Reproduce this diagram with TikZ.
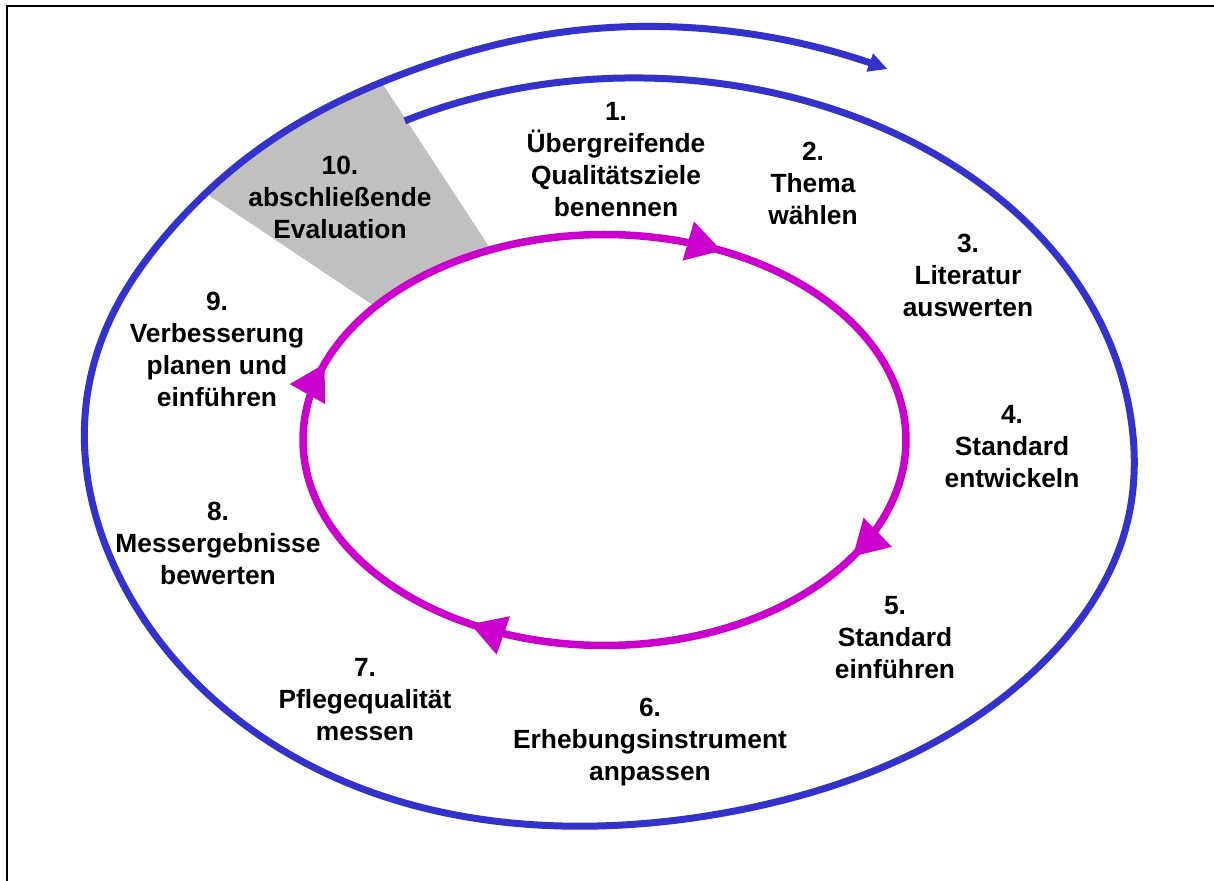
\documentclass[tikz,border=0pt]{standalone}
\usepackage{fontspec}
\setmainfont{Liberation Sans}
\usetikzlibrary{arrows.meta, decorations.markings}

\definecolor{kreisblau}{RGB}{51,51,204}
\definecolor{kreislila}{RGB}{204,0,204}
\definecolor{evalgrau}{RGB}{192,192,192}

% Hilfsfunktionen fuer die Spirale
\pgfmathdeclarefunction{buckel}{3}{%
    \pgfmathsetmacro\bt{min(3,max(-3,(#1-#2)/#3))}%
    \pgfmathparse{1/(1+\bt*\bt*\bt*\bt)}}
\pgfmathdeclarefunction{unten}{1}{%
    \pgfmathsetmacro\bu{max(0,-cos(#1))}%
    \pgfmathparse{\bu*\bu*\bu}}
\pgfmathdeclarefunction{spiralx}{1}{%
    \pgfmathparse{623+(486+#1/360*72.5)*(1-0.03*buckel(#1,320,30))*(1+0.025*buckel(#1,125,35))*sin(#1)-38*unten(#1)}}
\pgfmathdeclarefunction{spiraly}{1}{%
    \pgfmathparse{438-(360+#1/360*54)*(1-0.03*buckel(#1,320,30))*(1+0.025*buckel(#1,125,35))*cos(#1)}}

\tikzstyle{schritt} = [align=center, font=\fontsize{15}{18.2}\selectfont\bfseries, inner sep=0pt]
\tikzstyle{spirale} = [draw=kreisblau, line width=0.14cm, -{Triangle[length=0.38cm, width=0.36cm]}]
\tikzstyle{zyklus} = [draw=kreislila, line width=0.15cm, postaction={decorate},
    decoration={markings,
        mark=at position 0.074 with {\arrow{Triangle[length=0.7cm, width=0.77cm]}},
        mark=at position 0.332 with {\arrow{Triangle[length=0.7cm, width=0.77cm]}},
        mark=at position 0.585 with {\arrow{Triangle[length=0.7cm, width=0.77cm]}},
        mark=at position 0.800 with {\arrow{Triangle[length=0.7cm, width=0.77cm]}}}]

\begin{document}
\begin{tikzpicture}[x=0.02cm, y=-0.02cm]
    \useasboundingbox (0,0) rectangle (1214,881);

    % Rahmen
    \draw[line width=0.04cm] (7,881) -- (7,6) -- (1214,6);

    % Feld 10
    \begin{scope}
        \clip (354,40) -- (516,288) -- (413,332) -- (165,166) -- cycle;
        \fill[evalgrau, even odd rule]
            plot[domain=250:400, samples=100] ({spiralx(\x)}, {spiraly(\x)}) -- cycle
            plot[domain=0:360, samples=181] ({604.5+301.5*sin(\x)}, {440-205.5*cos(\x)}) -- cycle;
    \end{scope}

    % Spirale und Zyklus
    \draw[spirale] plot[domain=-27:388, samples=240, smooth] ({spiralx(\x)}, {spiraly(\x)});
    \draw[zyklus] plot[domain=0:360, samples=181] ({604.5+301.5*sin(\x)}, {440-205.5*cos(\x)}) -- cycle;

    % Schritte
    \node (s1) [schritt] at (616,160) {1.\\Übergreifende\\Qualitätsziele\\benennen};
    \node (s2) [schritt] at (813,183) {2.\\Thema\\wählen};
    \node (s3) [schritt] at (968,275) {3.\\Literatur\\auswerten};
    \node (s4) [schritt] at (1012,447) {4.\\Standard\\entwickeln};
    \node (s5) [schritt] at (895,638) {5.\\Standard\\einführen};
    \node (s6) [schritt] at (650,742) {6.\\Erhebungsinstrument\\anpassen};
    \node (s7) [schritt] at (365,700) {7.\\Pflegequalität\\messen};
    \node (s8) [schritt] at (218,543) {8.\\Messergebnisse\\bewerten};
    \node (s9) [schritt] at (217,349) {9.\\Verbesserung\\planen und\\einführen};
    \node (s10) [schritt] at (340,197) {10.\\abschließende\\Evaluation};

\end{tikzpicture}
\end{document}
